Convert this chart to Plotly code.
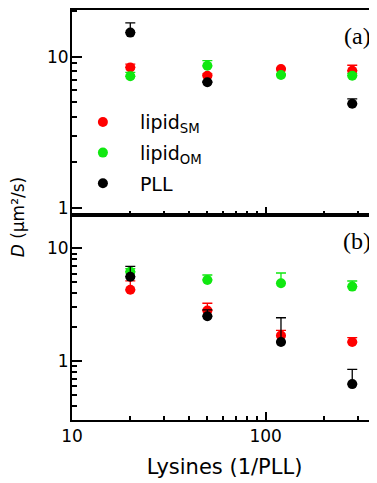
import plotly.graph_objects as go
from plotly.subplots import make_subplots

# ---- data ----
lysines = [20, 50, 120, 280]

# panel (a)
a_sm = [8.47, 7.47, 8.26, 8.06]
a_sm_err = [0.45, 0.2, 0.1, 0.7]
a_om = [7.4, 8.69, 7.55, 7.47]
a_om_err = [0.45, 0.7, 0.1, 0.25]
a_pll = [14.4, 6.76, None, 4.87]
a_pll_err = [2.3, 0.1, 0, 0.38]

# panel (b)
b_sm = [4.30, 2.82, 1.69, 1.48]
b_sm_err = [0.86, 0.45, 0.19, 0.14]
b_om = [6.22, 5.26, 4.91, 4.59]
b_om_err = [0.4, 0.56, 1.15, 0.56]
b_pll = [5.62, 2.51, 1.48, 0.627]
b_pll_err = [1.31, 0.35, 0.95, 0.22]

series_names = ["lipid<sub>SM</sub>", "lipid<sub>OM</sub>", "PLL"]
colors = ["#ff0000", "#10e810", "#000000"]
panel_labels = ["(a)", "(b)"]

fig = make_subplots(rows=2, cols=1, shared_xaxes=True, vertical_spacing=0)

panels = [
    [(a_sm, a_sm_err), (a_om, a_om_err), (a_pll, a_pll_err)],
    [(b_sm, b_sm_err), (b_om, b_om_err), (b_pll, b_pll_err)],
]

for r, panel in enumerate(panels, start=1):
    for i, (vals, errs) in enumerate(panel):
        fig.add_trace(
            go.Scatter(
                x=lysines, y=vals, mode="markers",
                name=series_names[i],
                legendgroup=f"g{i}",
                showlegend=(r == 1),
                marker=dict(color=colors[i], size=10, line=dict(width=0)),
                error_y=dict(type="data", symmetric=False, array=errs,
                             arrayminus=[0] * len(errs),
                             color=colors[i], thickness=1.3, width=5),
            ),
            row=r, col=1,
        )

axis_common = dict(
    type="log", showline=True, linecolor="black", linewidth=2,
    ticks="inside", tickcolor="black", tickwidth=1.5,
    showgrid=False, zeroline=False, dtick=1,
    tickfont=dict(family="DejaVu Sans", size=17, color="black"),
    minor=dict(ticks="inside", ticklen=5, tickwidth=1.5, tickcolor="black",
               dtick="D1", showgrid=False),
)

fig.update_xaxes(axis_common)
fig.update_xaxes(range=[1, 2.575], ticklen=8, mirror=True,
                 minor=dict(ticklen=4))
fig.update_xaxes(showticklabels=False, row=1, col=1)
fig.update_xaxes(title=dict(text="Lysines (1/PLL)", standoff=14,
                            font=dict(family="DejaVu Sans", size=21, color="black")),
                 row=2, col=1)

fig.update_yaxes(axis_common)
fig.update_yaxes(ticklen=10, mirror=False, ticklabelstandoff=-2)
fig.update_yaxes(range=[-0.048, 1.308], row=1, col=1)
fig.update_yaxes(range=[-0.521, 1.297], row=2, col=1)

annotations = [
    dict(text="<i>D</i> (μm²/s)", xref="paper", yref="paper",
         x=-0.178, y=0.496, xanchor="center", yanchor="middle",
         textangle=-90, showarrow=False,
         font=dict(family="DejaVu Sans", size=17, color="black")),
    dict(text=panel_labels[0], xref="paper", yref="paper", x=0.936, y=0.937,
         xanchor="center", yanchor="middle", showarrow=False,
         font=dict(family="Liberation Serif", size=24, color="black")),
    dict(text=panel_labels[1], xref="paper", yref="paper", x=0.936, y=0.436,
         xanchor="center", yanchor="middle", showarrow=False,
         font=dict(family="Liberation Serif", size=24, color="black")),
]

# page body has an 8px margin; margins compensate so the plot area sits
# at x 72..377, y 8..420 of the window
fig.update_layout(
    width=377, height=483,
    margin=dict(l=64, r=8, t=0, b=71),
    plot_bgcolor="white", paper_bgcolor="white",
    annotations=annotations,
    legend=dict(x=-0.02, y=0.773, xanchor="left", yanchor="top",
                bgcolor="rgba(0,0,0,0)", borderwidth=0,
                itemwidth=64, tracegroupgap=3, traceorder="grouped",
                font=dict(family="DejaVu Sans", size=19, color="black")),
    font=dict(family="DejaVu Sans", color="black"),
)

fig.write_html("out.html")
